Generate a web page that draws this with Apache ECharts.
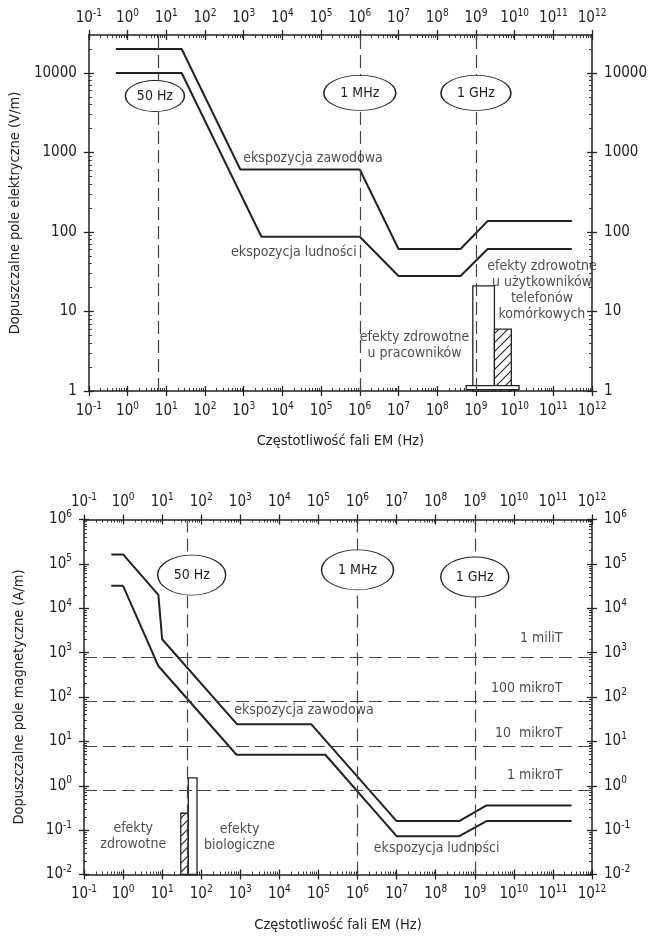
<!DOCTYPE html>
<html><head><meta charset="utf-8">
<script src="https://cdn.jsdelivr.net/npm/echarts@6/dist/echarts.min.js"></script>
<style>html,body{margin:0;padding:0;background:#fff;}#c{width:650px;height:937px;}</style>
</head><body><div id="c"></div>
<script>
// ================= DATA =================
const xExponents = [-1,0,1,2,3,4,5,6,7,8,9,10,11,12];
const eYTickValues = [1,10,100,1000,10000];
const hYExponents = [-2,-1,0,1,2,3,4,5,6];

// Electric field limits (V/m) vs frequency (Hz)
const eOccupational = [[0.5,20000],[25,20000],[820,610],[1e6,610],[1e7,61],[4e8,61],[2e9,137],[3e11,137]];
const ePublic       = [[0.5,10000],[25,10000],[2874,87],[1e6,87],[1e7,28],[4e8,28],[2e9,61],[3e11,61]];
// Magnetic field limits (A/m) vs frequency (Hz)
const hOccupational = [[0.5,163000],[1,163000],[8,20000],[10,2000],[820,24.4],[65000,24.4],[1e7,0.16],[4e8,0.16],[2e9,0.36],[3e11,0.36]];
const hPublic       = [[0.5,32000],[1,32000],[8,500],[800,5],[150000,5],[1e7,0.073],[4e8,0.073],[2e9,0.16],[3e11,0.16]];

// effect bars: [fromHz, toHz, fromValue, toValue, kind 0=open 1=hatched]
const eBars = [[8.3e8,3.0e9,1,21,0],[3.0e9,8.2e9,1,6,1],[5.6e8,1.3e10,1.04,1.17,0]];
const hBars = [[30,46.7,0.01,0.24,1],[46.7,78,0.01,1.5,0]];

// reference frequencies (dashed verticals) and their tags
const eMarkerFreqs = [6.4,1e6,1e9];
const hMarkerFreqs = [45,1e6,1e9];
const eMarkerTags = [[5.1,5130,'50 Hz'],[1e6,5600,'1 MHz'],[1e9,5600,'1 GHz']];
const hMarkerTags = [[57,56000,'50 Hz'],[1e6,73000,'1 MHz'],[1e9,50700,'1 GHz']];

// flux density levels (A/m) : 1 mT, 100 uT, 10 uT, 1 uT
const teslaLevels = [796,79.6,7.96,0.796];
const teslaTags = [[1.8e11,2140,'1 miliT'],[1.8e11,158,'100 mikroT'],[1.8e11,15.3,'10  mikroT'],[1.8e11,1.74,'1 mikroT']];

const eTexts = [[62000,855,'ekspozycja zawodowa'],[19900,55.7,'ekspozycja ludności'],
  [2.6e7,3.8,'efekty zdrowotne\nu pracowników'],[5.07e10,18.2,'efekty zdrowotne\nu użytkowników\ntelefonów\nkomórkowych']];
const hTexts = [[42600,49,'ekspozycja zawodowa'],[1.06e8,0.039,'ekspozycja ludności'],
  [1.82,0.0713,'efekty\nzdrowotne'],[955,0.07,'efekty\nbiologiczne']];

const xTitle = 'Częstotliwość fali EM (Hz)';
const eYTitle = 'Dopuszczalne pole elektryczne (V/m)';
const hYTitle = 'Dopuszczalne pole magnetyczne (A/m)';

// ================= STYLE / BUILD =================
const INK = '#222';
const FONT = "'Liberation Sans Narrow','DejaVu Sans Condensed','Roboto Condensed',sans-serif";
const eEllipseSizes = [[59,31],[72,35],[70,35]];
const hEllipseSizes = [[68,40],[72,40],[68,40]];

const pow10 = e => Math.pow(10, e);
const xMajors = xExponents.map(pow10);
function minorsBetween(lo, hi) {
  const out = [];
  for (let k = Math.floor(Math.log10(lo)); k <= Math.ceil(Math.log10(hi)); k++)
    for (let m = 2; m <= 9; m++) { const v = m * pow10(k); if (v > lo && v < hi) out.push(v); }
  return out;
}
const X_MIN = 0.1, X_MAX = 1e12;
const xMinors = minorsBetween(X_MIN, X_MAX);
const E_MIN = 1, E_MAX = 30000;
const H_MIN = 0.01, H_MAX = 1e6;
const eYMinors = minorsBetween(E_MIN, E_MAX);
const hYMajors = hYExponents.map(pow10);
const hYMinors = minorsBetween(H_MIN, H_MAX);

const RICH = {
  b: {fontSize: 15, fontFamily: FONT, color: INK, lineHeight: 20},
  s: {fontSize: 10, fontFamily: FONT, color: INK, lineHeight: 20, verticalAlign: 'top'}
};
const powFmt = v => '{b|10}{s|' + Math.round(Math.log10(v)) + '}';
const plainFmt = v => '{b|' + Math.round(v) + '}';

function axisSet(dim, g, min, max, majors, minors, fmt, opts) {
  const positions = dim === 'x' ? ['bottom','top'] : ['left','right'];
  const base = {type: 'log', logBase: 10, min, max, gridIndex: g, splitLine: {show: false}, minorTick: {show: false}};
  const res = [];
  positions.forEach((pos, i) => {
    const main = Object.assign({}, base, {
      position: pos,
      axisLine: {show: true, onZero: false, lineStyle: {color: INK, width: 1.5}},
      axisTick: {show: true, inside: false, length: 5, customValues: majors, lineStyle: {color: INK, width: 1.3}},
      axisLabel: {show: true, customValues: majors, formatter: fmt, rich: RICH, margin: opts.margins[i]}
    });
    if (i === 0 && opts.name) Object.assign(main, {
      name: opts.name, nameLocation: 'middle', nameGap: opts.nameGap,
      nameTextStyle: {fontFamily: FONT, fontSize: 14.5, color: INK}
    });
    res.push(main);
    res.push(Object.assign({}, base, {position: pos, axisLine: {show: false}, axisLabel: {show: false},
      axisTick: {show: true, inside: true, length: 5, customValues: majors, lineStyle: {color: INK, width: 1.3}}}));
    res.push(Object.assign({}, base, {position: pos, axisLine: {show: false}, axisLabel: {show: false},
      axisTick: {show: true, inside: true, length: 3, customValues: minors, lineStyle: {color: INK, width: 0.9}}}));
  });
  return res;
}

function makeHatch() {
  const s = 9, c = document.createElement('canvas');
  c.width = s; c.height = s;
  const x = c.getContext('2d');
  x.fillStyle = '#fff'; x.fillRect(0, 0, s, s);
  x.strokeStyle = INK; x.lineWidth = 1.1;
  x.beginPath();
  x.moveTo(0, s); x.lineTo(s, 0);
  x.moveTo(-2, 2); x.lineTo(2, -2);
  x.moveTo(s - 2, s + 2); x.lineTo(s + 2, s - 2);
  x.stroke();
  return c;
}
const HATCH = {type: 'pattern', image: makeHatch(), repeat: 'repeat'};

function seriesFor(g, occ, pub, bars, markerFreqs, markerTags, ellipseSizes, texts, hLevels, hTags) {
  const ax = {xAxisIndex: g * 6, yAxisIndex: g * 6};
  const list = [];
  const mlData = markerFreqs.map(v => ({xAxis: v})).concat((hLevels || []).map(v => ({yAxis: v})));
  list.push(Object.assign({type: 'line', data: [], z: 1, silent: true,
    markLine: {silent: true, symbol: ['none','none'], label: {show: false}, animation: false,
      lineStyle: {type: [13,6], color: '#444', width: 1.2}, data: mlData}}, ax));
  [occ, pub].forEach(d => list.push(Object.assign({type: 'line', data: d, symbol: 'none', z: 3,
    lineStyle: {color: INK, width: 2}}, ax)));
  list.push(Object.assign({type: 'custom', z: 4, data: bars,
    renderItem: (params, api) => {
      const p0 = api.coord([api.value(0), api.value(2)]);
      const p1 = api.coord([api.value(1), api.value(3)]);
      const kind = bars[params.dataIndex][4];
      return {type: 'rect',
        shape: {x: Math.min(p0[0], p1[0]), y: Math.min(p0[1], p1[1]), width: Math.abs(p1[0]-p0[0]), height: Math.abs(p1[1]-p0[1])},
        style: {fill: kind === 1 ? HATCH : '#fff', stroke: INK, lineWidth: 1.3}};
    }}, ax));
  list.push(Object.assign({type: 'scatter', z: 6, silent: true,
    data: markerTags.map((t, i) => ({value: [t[0], t[1]], name: t[2], symbolSize: ellipseSizes[i]})),
    symbol: 'circle',
    itemStyle: {color: '#fff', borderColor: INK, borderWidth: 1.1, opacity: 1},
    label: {show: true, position: 'inside', formatter: '{b}', color: INK, fontFamily: FONT, fontSize: 14}}, ax));
  list.push(Object.assign({type: 'scatter', z: 7, silent: true, symbolSize: 1,
    data: texts.map(t => ({value: [t[0], t[1]], name: t[2]})),
    itemStyle: {color: 'transparent'},
    label: {show: true, position: 'inside', formatter: '{b}', color: INK, fontFamily: FONT, fontSize: 14, lineHeight: 16}}, ax));
  if (hTags) list.push(Object.assign({type: 'scatter', z: 7, silent: true, symbolSize: 1,
    data: hTags.map(t => ({value: [t[0], t[1]], name: t[2]})),
    itemStyle: {color: 'transparent'},
    label: {show: true, position: 'left', distance: 0, formatter: '{b}', color: INK, fontFamily: FONT, fontSize: 14}}, ax));
  return list;
}

const option = {
  animation: false,
  backgroundColor: '#fff',
  grid: [
    {left: 84, top: 35, width: 511, height: 356},
    {left: 84, top: 519.5, width: 508, height: 355}
  ],
  xAxis: [].concat(
    axisSet('x', 0, X_MIN, X_MAX, xMajors, xMinors, powFmt, {margins: [10, 7], name: xTitle, nameGap: 43}),
    axisSet('x', 1, X_MIN, X_MAX, xMajors, xMinors, powFmt, {margins: [10, 7], name: xTitle, nameGap: 43})
  ),
  yAxis: [].concat(
    axisSet('y', 0, E_MIN, E_MAX, eYTickValues, eYMinors, plainFmt, {margins: [12, 12], name: eYTitle, nameGap: 57}),
    axisSet('y', 1, H_MIN, H_MAX, hYMajors, hYMinors, powFmt, {margins: [12, 12], name: hYTitle, nameGap: 57})
  ),
  series: [].concat(
    seriesFor(0, eOccupational, ePublic, eBars, eMarkerFreqs, eMarkerTags, eEllipseSizes, eTexts, null, null),
    seriesFor(1, hOccupational, hPublic, hBars, hMarkerFreqs, hMarkerTags, hEllipseSizes, hTexts, teslaLevels, teslaTags)
  )
};
const chart = echarts.init(document.getElementById('c'), null, {renderer: 'canvas'});
chart.setOption(option);
</script></body></html>
